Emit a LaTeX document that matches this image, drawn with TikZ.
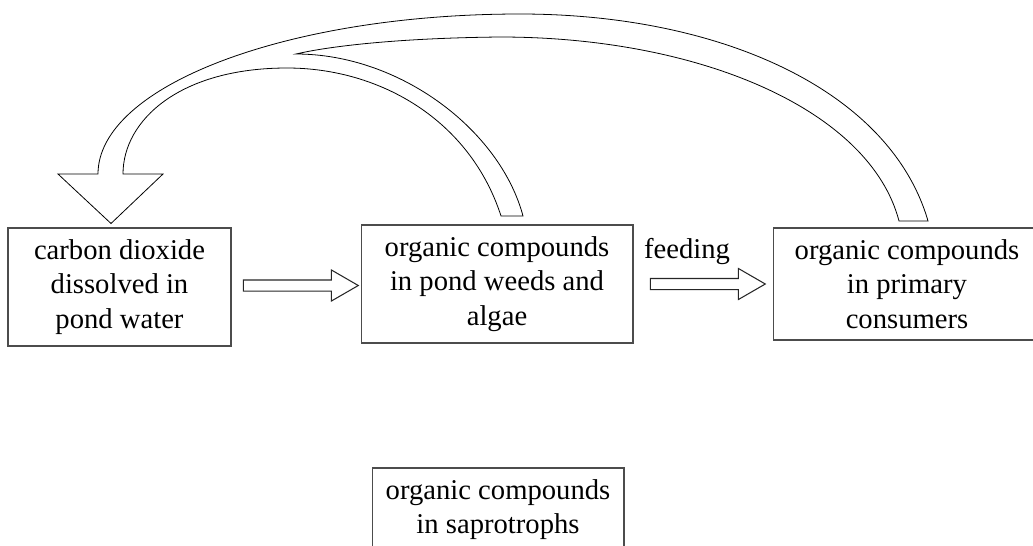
\documentclass[tikz,border=0pt]{standalone}
\usepackage{fontspec}
\setmainfont{Liberation Serif}
\usetikzlibrary{shapes.arrows,calc}

\begin{document}
\begin{tikzpicture}[
  x=0.02cm, y=-0.02cm,
  box/.style={rectangle, draw=black!70, line width=0.6pt, align=center,
              inner sep=0pt, font=\fontsize{16.3}{19.8}\selectfont},
  hollow/.style={single arrow, draw=black!85, line width=0.6pt, inner xsep=0pt,
                 inner ysep=0.1cm, single arrow head extend=0.2cm,
                 single arrow tip angle=60, minimum height=2.3cm},
  band/.style={draw=black, line width=0.45pt, line join=miter, fill=white}
]
  \useasboundingbox (0,0) rectangle (1033,545);

  % ── Boxes ──────────────────────────────────────────────────────────────
  \node[box, minimum width=4.46cm, minimum height=2.36cm] (co2)     at (119.5,287)
    {carbon dioxide\\dissolved in\\pond water};
  \node[box, minimum width=5.44cm, minimum height=2.36cm] (weeds)   at (497,284)
    {organic compounds\\in pond weeds and\\algae};
  \node[box, minimum width=5.36cm, minimum height=2.24cm] (primary) at (907,284)
    {organic compounds\\in primary\\consumers};
  \node[box, minimum width=5.04cm, minimum height=1.66cm] (sap)     at (498,509.5)
    {organic compounds\\in saprotrophs};

  % ── Straight hollow arrows ─────────────────────────────────────────────
  \node[hollow] (arr1) at ($(co2.east)!0.5!(weeds.west)$) {};
  \node[hollow] (arr2) at ($(weeds.east)!0.5!(primary.west)$) {};
  \node[font=\fontsize{16.3}{19.8}\selectfont, anchor=base] (feedlbl) at (687,258) {feeding};

  % ── Curved return band (back to CO2) ───────────────────────────────────
  \coordinate (tip) at ($(co2.north)+(-8.5,-4)$);
  \draw[band] (tip) -- (58,174) -- (98,174)
    .. controls (98,86) and (287,14) .. (520,14)
    .. controls (720,14) and (890,90) .. (928,221)
    -- (899,221)
    .. controls (870,110) and (700,37) .. (500,37)
    .. controls (400,38) and (330,46) .. (296,54)
    .. controls (400,54) and (500,130) .. (523,216)
    -- (501,216)
    .. controls (470,120) and (380,68) .. (287,68)
    .. controls (180,68) and (123,120) .. (123,174)
    -- (163,174) -- cycle;
\end{tikzpicture}
\end{document}
